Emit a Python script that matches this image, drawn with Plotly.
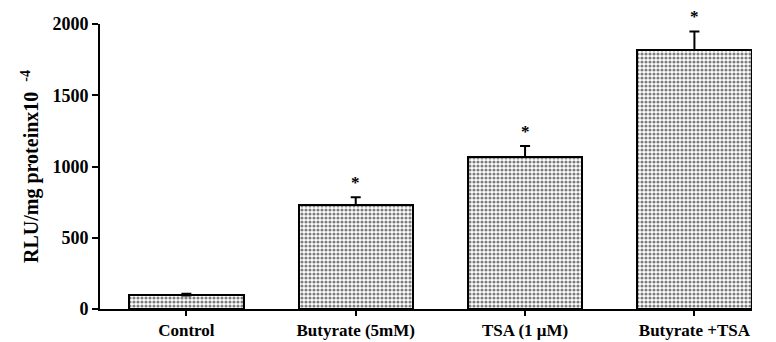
import plotly.graph_objects as go

# Reporter activity per treatment (RLU/mg protein x10^-4)
categories = ["Control", "Butyrate (5mM)", "TSA (1 \u03bcM)", "Butyrate +TSA"]
values = [95, 730, 1067, 1818]
errors = [12, 55, 77, 130]
significant = [False, True, True, True]
y_ticks = [0, 500, 1000, 1500, 2000]

x_pos = list(range(len(categories)))
font_family = "Liberation Serif"

fig = go.Figure()
fig.add_trace(go.Bar(
    x=x_pos,
    y=values,
    width=0.675,
    marker=dict(
        color="white",
        line=dict(color="black", width=2),
        pattern=dict(shape=".", fgcolor="black", bgcolor="white",
                     size=4, solidity=0.5),
    ),
    error_y=dict(type="data", array=errors, arrayminus=[0] * len(errors),
                 symmetric=False, color="black", thickness=2, width=5),
    cliponaxis=False,
    showlegend=False,
))

# Significance stars above the error bars
for xi, v, e, s in zip(x_pos, values, errors, significant):
    if s:
        fig.add_annotation(x=xi, y=v + e, text="<b>*</b>", showarrow=False,
                           yanchor="bottom", yshift=3,
                           font=dict(family=font_family, size=17, color="black"))

fig.update_layout(
    width=776, height=342,
    margin=dict(l=100, r=24, t=24, b=33),
    paper_bgcolor="white", plot_bgcolor="white",
    font=dict(family=font_family, color="black"),
    bargap=0,
)
fig.update_xaxes(
    range=[-0.51, 3.34],
    automargin=False,
    tickmode="array", tickvals=x_pos,
    ticktext=["<b>%s</b>" % c for c in categories],
    tickfont=dict(family=font_family, size=17, color="black"),
    showline=True, linecolor="black", linewidth=2,
    ticks="outside", ticklen=5, tickwidth=1.5, tickcolor="black",
    showgrid=False, zeroline=False,
)
fig.update_yaxes(
    range=[0, 2000],
    automargin=False,
    tickmode="array", tickvals=y_ticks,
    ticktext=["<b>%d</b>" % t for t in y_ticks],
    tickfont=dict(family=font_family, size=18, color="black"),
    showline=True, linecolor="black", linewidth=2,
    ticks="outside", ticklen=6, tickwidth=1.5, tickcolor="black",
    showgrid=False, zeroline=False,
    title=dict(text="<b>RLU/mg proteinx10  <sup>-4</sup></b>",
               font=dict(family=font_family, size=20, color="black"),
               standoff=8),
)

fig.write_html("out.html")
